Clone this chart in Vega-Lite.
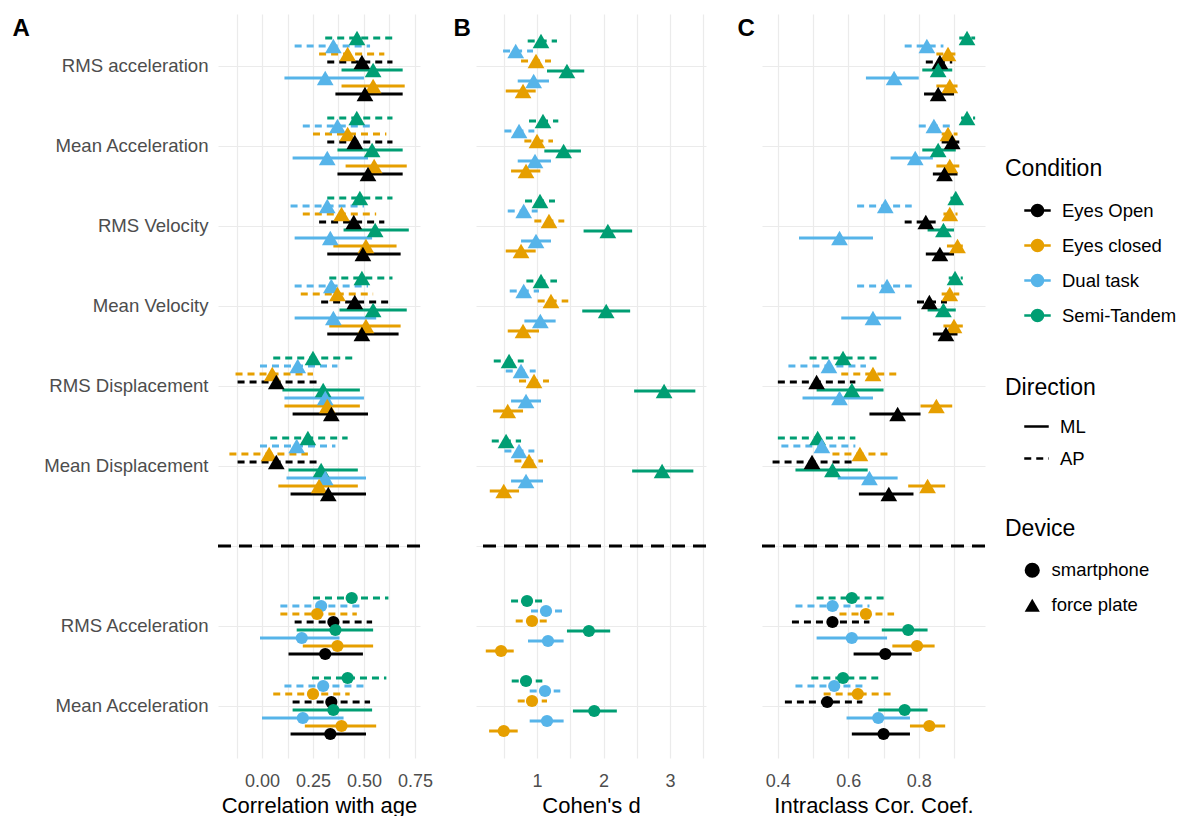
{
  "$schema": "https://vega.github.io/schema/vega-lite/v6.json",
  "padding": {"left": 12, "top": 14, "right": 5, "bottom": 0},
  "bounds": "flush",
  "spacing": 56,
  "config": {
    "font": "Liberation Sans",
    "view": {"stroke": null},
    "axis": {"grid": true, "gridColor": "#EBEBEB", "gridWidth": 1.2, "ticks": false, "domain": false, "labelFont": "Liberation Sans", "labelFontSize": 18, "labelColor": "#4D4D4D", "titleFont": "Liberation Sans", "titleFontSize": 22, "titleFontWeight": "normal", "titleColor": "#000000"},
    "axisX": {"labelPadding": 14, "titlePadding": 5},
    "axisY": {"labelPadding": 10, "labelFontSize": 18.6},
    "legend": {"titleFont": "Liberation Sans", "titleFontSize": 23, "titleFontWeight": "normal", "titleColor": "#000000", "labelFont": "Liberation Sans", "labelFontSize": 18.5, "labelColor": "#000000", "rowPadding": 9, "titlePadding": 15, "labelOffset": 10, "symbolOffset": 18, "offset": 18, "layout": {"right": {"anchor": "middle", "direction": "vertical", "margin": 50}}}
  },
  "datasets": {
    "sep": [{"m": "sep"}],
    "A": [
      {"m": "RMS acceleration", "c": "Semi-Tandem", "d": "AP", "e": 0.466, "lo": 0.31, "hi": 0.64},
      {"m": "RMS acceleration", "c": "Dual task", "d": "AP", "e": 0.35, "lo": 0.16, "hi": 0.53},
      {"m": "RMS acceleration", "c": "Eyes closed", "d": "AP", "e": 0.42, "lo": 0.28, "hi": 0.6},
      {"m": "RMS acceleration", "c": "Eyes Open", "d": "AP", "e": 0.49, "lo": 0.32, "hi": 0.64},
      {"m": "RMS acceleration", "c": "Semi-Tandem", "d": "ML", "e": 0.545, "lo": 0.39, "hi": 0.69},
      {"m": "RMS acceleration", "c": "Dual task", "d": "ML", "e": 0.31, "lo": 0.11, "hi": 0.5},
      {"m": "RMS acceleration", "c": "Eyes closed", "d": "ML", "e": 0.545, "lo": 0.39, "hi": 0.7},
      {"m": "RMS acceleration", "c": "Eyes Open", "d": "ML", "e": 0.505, "lo": 0.36, "hi": 0.69},
      {"m": "Mean Acceleration", "c": "Semi-Tandem", "d": "AP", "e": 0.465, "lo": 0.32, "hi": 0.64},
      {"m": "Mean Acceleration", "c": "Dual task", "d": "AP", "e": 0.37, "lo": 0.2, "hi": 0.55},
      {"m": "Mean Acceleration", "c": "Eyes closed", "d": "AP", "e": 0.42, "lo": 0.25, "hi": 0.61},
      {"m": "Mean Acceleration", "c": "Eyes Open", "d": "AP", "e": 0.455, "lo": 0.32, "hi": 0.64},
      {"m": "Mean Acceleration", "c": "Semi-Tandem", "d": "ML", "e": 0.54, "lo": 0.37, "hi": 0.69},
      {"m": "Mean Acceleration", "c": "Dual task", "d": "ML", "e": 0.32, "lo": 0.15, "hi": 0.52},
      {"m": "Mean Acceleration", "c": "Eyes closed", "d": "ML", "e": 0.55, "lo": 0.41, "hi": 0.71},
      {"m": "Mean Acceleration", "c": "Eyes Open", "d": "ML", "e": 0.52, "lo": 0.37, "hi": 0.69},
      {"m": "RMS Velocity", "c": "Semi-Tandem", "d": "AP", "e": 0.48, "lo": 0.32, "hi": 0.64},
      {"m": "RMS Velocity", "c": "Dual task", "d": "AP", "e": 0.32, "lo": 0.14, "hi": 0.5},
      {"m": "RMS Velocity", "c": "Eyes closed", "d": "AP", "e": 0.39, "lo": 0.2, "hi": 0.56},
      {"m": "RMS Velocity", "c": "Eyes Open", "d": "AP", "e": 0.45, "lo": 0.28, "hi": 0.6},
      {"m": "RMS Velocity", "c": "Semi-Tandem", "d": "ML", "e": 0.555, "lo": 0.4, "hi": 0.72},
      {"m": "RMS Velocity", "c": "Dual task", "d": "ML", "e": 0.335, "lo": 0.16, "hi": 0.54},
      {"m": "RMS Velocity", "c": "Eyes closed", "d": "ML", "e": 0.51, "lo": 0.35, "hi": 0.66},
      {"m": "RMS Velocity", "c": "Eyes Open", "d": "ML", "e": 0.495, "lo": 0.32, "hi": 0.68},
      {"m": "Mean Velocity", "c": "Semi-Tandem", "d": "AP", "e": 0.49, "lo": 0.33, "hi": 0.64},
      {"m": "Mean Velocity", "c": "Dual task", "d": "AP", "e": 0.34, "lo": 0.16, "hi": 0.52},
      {"m": "Mean Velocity", "c": "Eyes closed", "d": "AP", "e": 0.37, "lo": 0.19, "hi": 0.545},
      {"m": "Mean Velocity", "c": "Eyes Open", "d": "AP", "e": 0.455, "lo": 0.29, "hi": 0.62},
      {"m": "Mean Velocity", "c": "Semi-Tandem", "d": "ML", "e": 0.545, "lo": 0.38, "hi": 0.71},
      {"m": "Mean Velocity", "c": "Dual task", "d": "ML", "e": 0.35, "lo": 0.16, "hi": 0.56},
      {"m": "Mean Velocity", "c": "Eyes closed", "d": "ML", "e": 0.51, "lo": 0.33, "hi": 0.68},
      {"m": "Mean Velocity", "c": "Eyes Open", "d": "ML", "e": 0.49, "lo": 0.32, "hi": 0.67},
      {"m": "RMS Displacement", "c": "Semi-Tandem", "d": "AP", "e": 0.25, "lo": 0.055, "hi": 0.45},
      {"m": "RMS Displacement", "c": "Dual task", "d": "AP", "e": 0.175, "lo": -0.01, "hi": 0.37},
      {"m": "RMS Displacement", "c": "Eyes closed", "d": "AP", "e": 0.05, "lo": -0.13, "hi": 0.25},
      {"m": "RMS Displacement", "c": "Eyes Open", "d": "AP", "e": 0.07, "lo": -0.12, "hi": 0.285},
      {"m": "RMS Displacement", "c": "Semi-Tandem", "d": "ML", "e": 0.3, "lo": 0.1, "hi": 0.48},
      {"m": "RMS Displacement", "c": "Dual task", "d": "ML", "e": 0.31, "lo": 0.11, "hi": 0.5},
      {"m": "RMS Displacement", "c": "Eyes closed", "d": "ML", "e": 0.32, "lo": 0.11, "hi": 0.48},
      {"m": "RMS Displacement", "c": "Eyes Open", "d": "ML", "e": 0.34, "lo": 0.15, "hi": 0.52},
      {"m": "Mean Displacement", "c": "Semi-Tandem", "d": "AP", "e": 0.225, "lo": 0.04, "hi": 0.42},
      {"m": "Mean Displacement", "c": "Dual task", "d": "AP", "e": 0.17, "lo": -0.01, "hi": 0.36},
      {"m": "Mean Displacement", "c": "Eyes closed", "d": "AP", "e": 0.035, "lo": -0.16, "hi": 0.225},
      {"m": "Mean Displacement", "c": "Eyes Open", "d": "AP", "e": 0.07, "lo": -0.12, "hi": 0.275},
      {"m": "Mean Displacement", "c": "Semi-Tandem", "d": "ML", "e": 0.29, "lo": 0.13, "hi": 0.47},
      {"m": "Mean Displacement", "c": "Dual task", "d": "ML", "e": 0.31, "lo": 0.12, "hi": 0.51},
      {"m": "Mean Displacement", "c": "Eyes closed", "d": "ML", "e": 0.28, "lo": 0.08, "hi": 0.47},
      {"m": "Mean Displacement", "c": "Eyes Open", "d": "ML", "e": 0.325, "lo": 0.14, "hi": 0.51},
      {"m": "RMS Acceleration (smartphone)", "c": "Semi-Tandem", "d": "AP", "e": 0.44, "lo": 0.25, "hi": 0.62},
      {"m": "RMS Acceleration (smartphone)", "c": "Dual task", "d": "AP", "e": 0.29, "lo": 0.09, "hi": 0.49},
      {"m": "RMS Acceleration (smartphone)", "c": "Eyes closed", "d": "AP", "e": 0.27, "lo": 0.09, "hi": 0.465},
      {"m": "RMS Acceleration (smartphone)", "c": "Eyes Open", "d": "AP", "e": 0.35, "lo": 0.16, "hi": 0.54},
      {"m": "RMS Acceleration (smartphone)", "c": "Semi-Tandem", "d": "ML", "e": 0.36, "lo": 0.17, "hi": 0.545},
      {"m": "RMS Acceleration (smartphone)", "c": "Dual task", "d": "ML", "e": 0.195, "lo": -0.01, "hi": 0.38},
      {"m": "RMS Acceleration (smartphone)", "c": "Eyes closed", "d": "ML", "e": 0.37, "lo": 0.2, "hi": 0.545},
      {"m": "RMS Acceleration (smartphone)", "c": "Eyes Open", "d": "ML", "e": 0.31, "lo": 0.13, "hi": 0.495},
      {"m": "Mean Acceleration (smartphone)", "c": "Semi-Tandem", "d": "AP", "e": 0.42, "lo": 0.245, "hi": 0.61},
      {"m": "Mean Acceleration (smartphone)", "c": "Dual task", "d": "AP", "e": 0.3, "lo": 0.11, "hi": 0.5},
      {"m": "Mean Acceleration (smartphone)", "c": "Eyes closed", "d": "AP", "e": 0.25, "lo": 0.055, "hi": 0.43},
      {"m": "Mean Acceleration (smartphone)", "c": "Eyes Open", "d": "AP", "e": 0.34, "lo": 0.15, "hi": 0.53},
      {"m": "Mean Acceleration (smartphone)", "c": "Semi-Tandem", "d": "ML", "e": 0.35, "lo": 0.15, "hi": 0.54},
      {"m": "Mean Acceleration (smartphone)", "c": "Dual task", "d": "ML", "e": 0.2, "lo": 0.0, "hi": 0.4},
      {"m": "Mean Acceleration (smartphone)", "c": "Eyes closed", "d": "ML", "e": 0.39, "lo": 0.21, "hi": 0.56},
      {"m": "Mean Acceleration (smartphone)", "c": "Eyes Open", "d": "ML", "e": 0.335, "lo": 0.14, "hi": 0.51}
    ],
    "B": [
      {"m": "RMS acceleration", "c": "Semi-Tandem", "d": "AP", "e": 1.06, "lo": 0.86, "hi": 1.3},
      {"m": "RMS acceleration", "c": "Dual task", "d": "AP", "e": 0.68, "lo": 0.49, "hi": 0.94},
      {"m": "RMS acceleration", "c": "Eyes closed", "d": "AP", "e": 0.985, "lo": 0.76, "hi": 1.21},
      {"m": "RMS acceleration", "c": "Semi-Tandem", "d": "ML", "e": 1.45, "lo": 1.15, "hi": 1.71},
      {"m": "RMS acceleration", "c": "Dual task", "d": "ML", "e": 0.95, "lo": 0.71, "hi": 1.18},
      {"m": "RMS acceleration", "c": "Eyes closed", "d": "ML", "e": 0.79, "lo": 0.53, "hi": 0.98},
      {"m": "Mean Acceleration", "c": "Semi-Tandem", "d": "AP", "e": 1.09, "lo": 0.88, "hi": 1.32},
      {"m": "Mean Acceleration", "c": "Dual task", "d": "AP", "e": 0.73, "lo": 0.51, "hi": 0.96},
      {"m": "Mean Acceleration", "c": "Eyes closed", "d": "AP", "e": 1.0, "lo": 0.81, "hi": 1.24},
      {"m": "Mean Acceleration", "c": "Semi-Tandem", "d": "ML", "e": 1.4, "lo": 1.11, "hi": 1.66},
      {"m": "Mean Acceleration", "c": "Dual task", "d": "ML", "e": 0.97, "lo": 0.71, "hi": 1.21},
      {"m": "Mean Acceleration", "c": "Eyes closed", "d": "ML", "e": 0.835, "lo": 0.61, "hi": 1.05},
      {"m": "RMS Velocity", "c": "Semi-Tandem", "d": "AP", "e": 1.045, "lo": 0.82, "hi": 1.27},
      {"m": "RMS Velocity", "c": "Dual task", "d": "AP", "e": 0.8, "lo": 0.56, "hi": 1.01},
      {"m": "RMS Velocity", "c": "Eyes closed", "d": "AP", "e": 1.18, "lo": 0.96, "hi": 1.41},
      {"m": "RMS Velocity", "c": "Semi-Tandem", "d": "ML", "e": 2.065, "lo": 1.7, "hi": 2.43},
      {"m": "RMS Velocity", "c": "Dual task", "d": "ML", "e": 0.985, "lo": 0.76, "hi": 1.21},
      {"m": "RMS Velocity", "c": "Eyes closed", "d": "ML", "e": 0.76, "lo": 0.53, "hi": 0.98},
      {"m": "Mean Velocity", "c": "Semi-Tandem", "d": "AP", "e": 1.06, "lo": 0.84, "hi": 1.3},
      {"m": "Mean Velocity", "c": "Dual task", "d": "AP", "e": 0.8, "lo": 0.59, "hi": 1.03},
      {"m": "Mean Velocity", "c": "Eyes closed", "d": "AP", "e": 1.21, "lo": 1.01, "hi": 1.47},
      {"m": "Mean Velocity", "c": "Semi-Tandem", "d": "ML", "e": 2.04, "lo": 1.68, "hi": 2.4},
      {"m": "Mean Velocity", "c": "Dual task", "d": "ML", "e": 1.05, "lo": 0.81, "hi": 1.28},
      {"m": "Mean Velocity", "c": "Eyes closed", "d": "ML", "e": 0.79, "lo": 0.56, "hi": 1.03},
      {"m": "RMS Displacement", "c": "Semi-Tandem", "d": "AP", "e": 0.58, "lo": 0.35, "hi": 0.8},
      {"m": "RMS Displacement", "c": "Dual task", "d": "AP", "e": 0.76, "lo": 0.53, "hi": 0.98},
      {"m": "RMS Displacement", "c": "Eyes closed", "d": "AP", "e": 0.955, "lo": 0.73, "hi": 1.18},
      {"m": "RMS Displacement", "c": "Semi-Tandem", "d": "ML", "e": 2.91, "lo": 2.46, "hi": 3.38},
      {"m": "RMS Displacement", "c": "Dual task", "d": "ML", "e": 0.835, "lo": 0.61, "hi": 1.06},
      {"m": "RMS Displacement", "c": "Eyes closed", "d": "ML", "e": 0.56, "lo": 0.34, "hi": 0.79},
      {"m": "Mean Displacement", "c": "Semi-Tandem", "d": "AP", "e": 0.535, "lo": 0.32, "hi": 0.76},
      {"m": "Mean Displacement", "c": "Dual task", "d": "AP", "e": 0.73, "lo": 0.51, "hi": 0.96},
      {"m": "Mean Displacement", "c": "Eyes closed", "d": "AP", "e": 0.88, "lo": 0.66, "hi": 1.09},
      {"m": "Mean Displacement", "c": "Semi-Tandem", "d": "ML", "e": 2.88, "lo": 2.43, "hi": 3.35},
      {"m": "Mean Displacement", "c": "Dual task", "d": "ML", "e": 0.835, "lo": 0.61, "hi": 1.09},
      {"m": "Mean Displacement", "c": "Eyes closed", "d": "ML", "e": 0.5, "lo": 0.29, "hi": 0.73},
      {"m": "RMS Acceleration (smartphone)", "c": "Semi-Tandem", "d": "AP", "e": 0.85, "lo": 0.61, "hi": 1.09},
      {"m": "RMS Acceleration (smartphone)", "c": "Dual task", "d": "AP", "e": 1.135, "lo": 0.91, "hi": 1.38},
      {"m": "RMS Acceleration (smartphone)", "c": "Eyes closed", "d": "AP", "e": 0.925, "lo": 0.68, "hi": 1.165},
      {"m": "RMS Acceleration (smartphone)", "c": "Semi-Tandem", "d": "ML", "e": 1.78, "lo": 1.45, "hi": 2.1},
      {"m": "RMS Acceleration (smartphone)", "c": "Dual task", "d": "ML", "e": 1.165, "lo": 0.865, "hi": 1.4},
      {"m": "RMS Acceleration (smartphone)", "c": "Eyes closed", "d": "ML", "e": 0.46, "lo": 0.23, "hi": 0.65},
      {"m": "Mean Acceleration (smartphone)", "c": "Semi-Tandem", "d": "AP", "e": 0.835, "lo": 0.62, "hi": 1.08},
      {"m": "Mean Acceleration (smartphone)", "c": "Dual task", "d": "AP", "e": 1.12, "lo": 0.89, "hi": 1.35},
      {"m": "Mean Acceleration (smartphone)", "c": "Eyes closed", "d": "AP", "e": 0.925, "lo": 0.71, "hi": 1.15},
      {"m": "Mean Acceleration (smartphone)", "c": "Semi-Tandem", "d": "ML", "e": 1.86, "lo": 1.54, "hi": 2.2},
      {"m": "Mean Acceleration (smartphone)", "c": "Dual task", "d": "ML", "e": 1.15, "lo": 0.89, "hi": 1.4},
      {"m": "Mean Acceleration (smartphone)", "c": "Eyes closed", "d": "ML", "e": 0.5, "lo": 0.28, "hi": 0.71}
    ],
    "C": [
      {"m": "RMS acceleration", "c": "Semi-Tandem", "d": "AP", "e": 0.937, "lo": 0.915, "hi": 0.96},
      {"m": "RMS acceleration", "c": "Dual task", "d": "AP", "e": 0.823, "lo": 0.76, "hi": 0.87},
      {"m": "RMS acceleration", "c": "Eyes closed", "d": "AP", "e": 0.883, "lo": 0.85, "hi": 0.91},
      {"m": "RMS acceleration", "c": "Eyes Open", "d": "AP", "e": 0.86, "lo": 0.82, "hi": 0.895},
      {"m": "RMS acceleration", "c": "Semi-Tandem", "d": "ML", "e": 0.855, "lo": 0.81, "hi": 0.895},
      {"m": "RMS acceleration", "c": "Dual task", "d": "ML", "e": 0.73, "lo": 0.65, "hi": 0.8},
      {"m": "RMS acceleration", "c": "Eyes closed", "d": "ML", "e": 0.888, "lo": 0.85, "hi": 0.91},
      {"m": "RMS acceleration", "c": "Eyes Open", "d": "ML", "e": 0.855, "lo": 0.815, "hi": 0.9},
      {"m": "Mean Acceleration", "c": "Semi-Tandem", "d": "AP", "e": 0.937, "lo": 0.92, "hi": 0.96},
      {"m": "Mean Acceleration", "c": "Dual task", "d": "AP", "e": 0.843, "lo": 0.8, "hi": 0.895},
      {"m": "Mean Acceleration", "c": "Eyes closed", "d": "AP", "e": 0.883, "lo": 0.865, "hi": 0.91},
      {"m": "Mean Acceleration", "c": "Eyes Open", "d": "AP", "e": 0.895, "lo": 0.865, "hi": 0.915},
      {"m": "Mean Acceleration", "c": "Semi-Tandem", "d": "ML", "e": 0.855, "lo": 0.81, "hi": 0.905},
      {"m": "Mean Acceleration", "c": "Dual task", "d": "ML", "e": 0.79, "lo": 0.72, "hi": 0.84},
      {"m": "Mean Acceleration", "c": "Eyes closed", "d": "ML", "e": 0.888, "lo": 0.85, "hi": 0.915},
      {"m": "Mean Acceleration", "c": "Eyes Open", "d": "ML", "e": 0.873, "lo": 0.84, "hi": 0.91},
      {"m": "RMS Velocity", "c": "Semi-Tandem", "d": "AP", "e": 0.905, "lo": 0.89, "hi": 0.92},
      {"m": "RMS Velocity", "c": "Dual task", "d": "AP", "e": 0.705, "lo": 0.625, "hi": 0.78},
      {"m": "RMS Velocity", "c": "Eyes closed", "d": "AP", "e": 0.888, "lo": 0.87, "hi": 0.91},
      {"m": "RMS Velocity", "c": "Eyes Open", "d": "AP", "e": 0.82, "lo": 0.76, "hi": 0.86},
      {"m": "RMS Velocity", "c": "Semi-Tandem", "d": "ML", "e": 0.87, "lo": 0.825, "hi": 0.9},
      {"m": "RMS Velocity", "c": "Dual task", "d": "ML", "e": 0.575, "lo": 0.46, "hi": 0.67},
      {"m": "RMS Velocity", "c": "Eyes closed", "d": "ML", "e": 0.91, "lo": 0.88, "hi": 0.925},
      {"m": "RMS Velocity", "c": "Eyes Open", "d": "ML", "e": 0.86, "lo": 0.82, "hi": 0.9},
      {"m": "Mean Velocity", "c": "Semi-Tandem", "d": "AP", "e": 0.903, "lo": 0.885, "hi": 0.925},
      {"m": "Mean Velocity", "c": "Dual task", "d": "AP", "e": 0.71, "lo": 0.625, "hi": 0.78},
      {"m": "Mean Velocity", "c": "Eyes closed", "d": "AP", "e": 0.888, "lo": 0.865, "hi": 0.915},
      {"m": "Mean Velocity", "c": "Eyes Open", "d": "AP", "e": 0.83, "lo": 0.795, "hi": 0.88},
      {"m": "Mean Velocity", "c": "Semi-Tandem", "d": "ML", "e": 0.87, "lo": 0.825, "hi": 0.905},
      {"m": "Mean Velocity", "c": "Dual task", "d": "ML", "e": 0.67, "lo": 0.58, "hi": 0.75},
      {"m": "Mean Velocity", "c": "Eyes closed", "d": "ML", "e": 0.9, "lo": 0.87, "hi": 0.925},
      {"m": "Mean Velocity", "c": "Eyes Open", "d": "ML", "e": 0.877, "lo": 0.84, "hi": 0.91},
      {"m": "RMS Displacement", "c": "Semi-Tandem", "d": "AP", "e": 0.585, "lo": 0.49, "hi": 0.68},
      {"m": "RMS Displacement", "c": "Dual task", "d": "AP", "e": 0.545, "lo": 0.43, "hi": 0.65},
      {"m": "RMS Displacement", "c": "Eyes closed", "d": "AP", "e": 0.67, "lo": 0.58, "hi": 0.75},
      {"m": "RMS Displacement", "c": "Eyes Open", "d": "AP", "e": 0.51, "lo": 0.4, "hi": 0.62},
      {"m": "RMS Displacement", "c": "Semi-Tandem", "d": "ML", "e": 0.61, "lo": 0.51, "hi": 0.7},
      {"m": "RMS Displacement", "c": "Dual task", "d": "ML", "e": 0.575, "lo": 0.47, "hi": 0.67},
      {"m": "RMS Displacement", "c": "Eyes closed", "d": "ML", "e": 0.85, "lo": 0.805, "hi": 0.895},
      {"m": "RMS Displacement", "c": "Eyes Open", "d": "ML", "e": 0.74, "lo": 0.66, "hi": 0.805},
      {"m": "Mean Displacement", "c": "Semi-Tandem", "d": "AP", "e": 0.513, "lo": 0.4, "hi": 0.62},
      {"m": "Mean Displacement", "c": "Dual task", "d": "AP", "e": 0.525, "lo": 0.41, "hi": 0.62},
      {"m": "Mean Displacement", "c": "Eyes closed", "d": "AP", "e": 0.633, "lo": 0.555, "hi": 0.72},
      {"m": "Mean Displacement", "c": "Eyes Open", "d": "AP", "e": 0.497, "lo": 0.385, "hi": 0.61},
      {"m": "Mean Displacement", "c": "Semi-Tandem", "d": "ML", "e": 0.555, "lo": 0.45, "hi": 0.655},
      {"m": "Mean Displacement", "c": "Dual task", "d": "ML", "e": 0.66, "lo": 0.57, "hi": 0.74},
      {"m": "Mean Displacement", "c": "Eyes closed", "d": "ML", "e": 0.825, "lo": 0.77, "hi": 0.875},
      {"m": "Mean Displacement", "c": "Eyes Open", "d": "ML", "e": 0.715, "lo": 0.63, "hi": 0.785},
      {"m": "RMS Acceleration (smartphone)", "c": "Semi-Tandem", "d": "AP", "e": 0.61, "lo": 0.51, "hi": 0.705},
      {"m": "RMS Acceleration (smartphone)", "c": "Dual task", "d": "AP", "e": 0.555, "lo": 0.45, "hi": 0.66},
      {"m": "RMS Acceleration (smartphone)", "c": "Eyes closed", "d": "AP", "e": 0.65, "lo": 0.575, "hi": 0.73},
      {"m": "RMS Acceleration (smartphone)", "c": "Eyes Open", "d": "AP", "e": 0.555, "lo": 0.44, "hi": 0.66},
      {"m": "RMS Acceleration (smartphone)", "c": "Semi-Tandem", "d": "ML", "e": 0.77, "lo": 0.695, "hi": 0.825},
      {"m": "RMS Acceleration (smartphone)", "c": "Dual task", "d": "ML", "e": 0.61, "lo": 0.51, "hi": 0.71},
      {"m": "RMS Acceleration (smartphone)", "c": "Eyes closed", "d": "ML", "e": 0.795, "lo": 0.725, "hi": 0.845},
      {"m": "RMS Acceleration (smartphone)", "c": "Eyes Open", "d": "ML", "e": 0.705, "lo": 0.615, "hi": 0.78},
      {"m": "Mean Acceleration (smartphone)", "c": "Semi-Tandem", "d": "AP", "e": 0.585, "lo": 0.495, "hi": 0.685},
      {"m": "Mean Acceleration (smartphone)", "c": "Dual task", "d": "AP", "e": 0.56, "lo": 0.45, "hi": 0.64},
      {"m": "Mean Acceleration (smartphone)", "c": "Eyes closed", "d": "AP", "e": 0.627, "lo": 0.53, "hi": 0.72},
      {"m": "Mean Acceleration (smartphone)", "c": "Eyes Open", "d": "AP", "e": 0.54, "lo": 0.42, "hi": 0.64},
      {"m": "Mean Acceleration (smartphone)", "c": "Semi-Tandem", "d": "ML", "e": 0.76, "lo": 0.685, "hi": 0.825},
      {"m": "Mean Acceleration (smartphone)", "c": "Dual task", "d": "ML", "e": 0.685, "lo": 0.595, "hi": 0.775},
      {"m": "Mean Acceleration (smartphone)", "c": "Eyes closed", "d": "ML", "e": 0.83, "lo": 0.775, "hi": 0.875},
      {"m": "Mean Acceleration (smartphone)", "c": "Eyes Open", "d": "ML", "e": 0.7, "lo": 0.61, "hi": 0.775}
    ]
  },
  "resolve": {"scale": {"yOffset": "independent"}},
  "hconcat": [
    {
      "width": 202, "height": 744,
      "data": {"name": "A"},
      "layer": [
        {
          "transform": [{"calculate": "datum.d + ' ' + datum.c", "as": "g"}],
          "mark": {"type": "rule", "strokeWidth": 2.8},
          "encoding": {
            "y": {"field": "m", "type": "nominal", "sort": null, "scale": {"domain": ["RMS acceleration", "Mean Acceleration", "RMS Velocity", "Mean Velocity", "RMS Displacement", "Mean Displacement", "sep", "RMS Acceleration (smartphone)", "Mean Acceleration (smartphone)"], "paddingInner": 0, "paddingOuter": 0.15}, "axis": {"labelExpr": "datum.value == 'sep' ? '' : replace(datum.value, ' (smartphone)', '')", "title": "A", "titleAngle": 0, "titleAlign": "left", "titleBaseline": "middle", "titleX": -206, "titleY": 14, "titleFontSize": 24, "titleFontWeight": "bold", "titleColor": "#000000"}},
            "yOffset": {"field": "g", "type": "nominal", "scale": {"domain": ["AP Semi-Tandem", "AP Dual task", "AP Eyes closed", "AP Eyes Open", "ML Semi-Tandem", "ML Dual task", "ML Eyes closed", "ML Eyes Open"], "paddingInner": 0, "paddingOuter": 3}},
            "x": {"field": "lo", "type": "quantitative", "scale": {"domain": [-0.216, 0.775], "nice": false, "zero": false}, "axis": {"values": [-0.125, 0, 0.125, 0.25, 0.375, 0.5, 0.625, 0.75], "labelExpr": "abs(datum.value*4 - round(datum.value*4)) < 0.001 ? format(datum.value, '.2f') : ''", "title": "Correlation with age"}},
            "x2": {"field": "hi"},
            "color": {"field": "c", "type": "nominal", "scale": {"domain": ["Eyes Open", "Eyes closed", "Dual task", "Semi-Tandem"], "range": ["#000000", "#E69F00", "#56B4E9", "#009E73"]}, "legend": {"title": "Condition", "symbolType": "M-1,0H1M-0.42,0A0.42,0.42,0,1,1,0.42,0A0.42,0.42,0,1,1,-0.42,0Z", "symbolSize": 700, "symbolStrokeWidth": 2.5, "encode": {"symbols": {"update": {"stroke": {"scale": "color", "field": "value"}, "fill": {"scale": "color", "field": "value"}}}}}},
            "strokeDash": {"field": "d", "type": "nominal", "scale": {"domain": ["ML", "AP"], "range": [[1, 0], [7, 5]]}, "legend": {"title": "Direction", "symbolType": "stroke", "symbolStrokeColor": "#000000", "symbolStrokeWidth": 2.5, "symbolSize": 600, "titlePadding": 13}}
          }
        },
        {
          "transform": [{"calculate": "datum.d + ' ' + datum.c", "as": "g"}, {"calculate": "indexof(datum.m, 'smartphone') >= 0 ? 'smartphone' : 'force plate'", "as": "dev"}],
          "mark": {"type": "point", "filled": true, "opacity": 1, "strokeWidth": 0},
          "encoding": {
            "y": {"field": "m", "type": "nominal", "sort": null, "scale": {"domain": ["RMS acceleration", "Mean Acceleration", "RMS Velocity", "Mean Velocity", "RMS Displacement", "Mean Displacement", "sep", "RMS Acceleration (smartphone)", "Mean Acceleration (smartphone)"], "paddingInner": 0, "paddingOuter": 0.15}, "axis": {"labelExpr": "datum.value == 'sep' ? '' : replace(datum.value, ' (smartphone)', '')", "title": "A", "titleAngle": 0, "titleAlign": "left", "titleBaseline": "middle", "titleX": -206, "titleY": 14, "titleFontSize": 24, "titleFontWeight": "bold", "titleColor": "#000000"}},
            "yOffset": {"field": "g", "type": "nominal", "scale": {"domain": ["AP Semi-Tandem", "AP Dual task", "AP Eyes closed", "AP Eyes Open", "ML Semi-Tandem", "ML Dual task", "ML Eyes closed", "ML Eyes Open"], "paddingInner": 0, "paddingOuter": 3}},
            "x": {"field": "e", "type": "quantitative", "scale": {"domain": [-0.216, 0.775], "nice": false, "zero": false}, "axis": {"values": [-0.125, 0, 0.125, 0.25, 0.375, 0.5, 0.625, 0.75], "labelExpr": "abs(datum.value*4 - round(datum.value*4)) < 0.001 ? format(datum.value, '.2f') : ''", "title": "Correlation with age"}},
            "color": {"field": "c", "type": "nominal", "scale": {"domain": ["Eyes Open", "Eyes closed", "Dual task", "Semi-Tandem"], "range": ["#000000", "#E69F00", "#56B4E9", "#009E73"]}, "legend": {"title": "Condition", "symbolType": "M-1,0H1M-0.42,0A0.42,0.42,0,1,1,0.42,0A0.42,0.42,0,1,1,-0.42,0Z", "symbolSize": 700, "symbolStrokeWidth": 2.5, "encode": {"symbols": {"update": {"stroke": {"scale": "color", "field": "value"}, "fill": {"scale": "color", "field": "value"}}}}}},
            "shape": {"field": "dev", "type": "nominal", "scale": {"domain": ["smartphone", "force plate"], "range": ["circle", "triangle-up"]}, "legend": {"title": "Device", "symbolFillColor": "#000000", "symbolStrokeColor": "#000000", "symbolStrokeWidth": 0, "symbolSize": 230, "rowPadding": 16, "titlePadding": 20}},
            "size": {"field": "dev", "type": "nominal", "scale": {"domain": ["force plate", "smartphone"], "range": [280, 150]}, "legend": null}
          }
        },
        {
          "data": {"name": "sep"},
          "mark": {"type": "rule", "color": "#000000", "strokeDash": [13, 8], "strokeWidth": 2.8},
          "encoding": {
            "y": {"field": "m", "type": "nominal", "sort": null, "scale": {"domain": ["RMS acceleration", "Mean Acceleration", "RMS Velocity", "Mean Velocity", "RMS Displacement", "Mean Displacement", "sep", "RMS Acceleration (smartphone)", "Mean Acceleration (smartphone)"], "paddingInner": 0, "paddingOuter": 0.15}, "axis": {"labelExpr": "datum.value == 'sep' ? '' : replace(datum.value, ' (smartphone)', '')", "title": "A", "titleAngle": 0, "titleAlign": "left", "titleBaseline": "middle", "titleX": -206, "titleY": 14, "titleFontSize": 24, "titleFontWeight": "bold", "titleColor": "#000000"}}
          }
        }
      ]
    },
    {
      "width": 230, "height": 744,
      "data": {"name": "B"},
      "layer": [
        {
          "transform": [{"calculate": "datum.d + ' ' + datum.c", "as": "g"}],
          "mark": {"type": "rule", "strokeWidth": 2.8},
          "encoding": {
            "y": {"field": "m", "type": "nominal", "sort": null, "scale": {"domain": ["RMS acceleration", "Mean Acceleration", "RMS Velocity", "Mean Velocity", "RMS Displacement", "Mean Displacement", "sep", "RMS Acceleration (smartphone)", "Mean Acceleration (smartphone)"], "paddingInner": 0, "paddingOuter": 0.15}, "axis": {"labels": false, "title": "B", "titleAngle": 0, "titleAlign": "left", "titleBaseline": "middle", "titleX": -23, "titleY": 14, "titleFontSize": 24, "titleFontWeight": "bold", "titleColor": "#000000"}},
            "yOffset": {"field": "g", "type": "nominal", "scale": {"domain": ["AP Semi-Tandem", "AP Dual task", "AP Eyes closed", "ML Semi-Tandem", "ML Dual task", "ML Eyes closed"], "paddingInner": 0, "paddingOuter": 2}},
            "x": {"field": "lo", "type": "quantitative", "scale": {"domain": [0.083, 3.54], "nice": false, "zero": false}, "axis": {"values": [0.5, 1, 1.5, 2, 2.5, 3, 3.5], "labelExpr": "datum.value % 1 == 0 ? format(datum.value, 'd') : ''", "title": "Cohen's d"}},
            "x2": {"field": "hi"},
            "color": {"field": "c", "type": "nominal", "scale": {"domain": ["Eyes Open", "Eyes closed", "Dual task", "Semi-Tandem"], "range": ["#000000", "#E69F00", "#56B4E9", "#009E73"]}, "legend": {"title": "Condition", "symbolType": "M-1,0H1M-0.42,0A0.42,0.42,0,1,1,0.42,0A0.42,0.42,0,1,1,-0.42,0Z", "symbolSize": 700, "symbolStrokeWidth": 2.5, "encode": {"symbols": {"update": {"stroke": {"scale": "color", "field": "value"}, "fill": {"scale": "color", "field": "value"}}}}}},
            "strokeDash": {"field": "d", "type": "nominal", "scale": {"domain": ["ML", "AP"], "range": [[1, 0], [7, 5]]}, "legend": {"title": "Direction", "symbolType": "stroke", "symbolStrokeColor": "#000000", "symbolStrokeWidth": 2.5, "symbolSize": 600, "titlePadding": 13}}
          }
        },
        {
          "transform": [{"calculate": "datum.d + ' ' + datum.c", "as": "g"}, {"calculate": "indexof(datum.m, 'smartphone') >= 0 ? 'smartphone' : 'force plate'", "as": "dev"}],
          "mark": {"type": "point", "filled": true, "opacity": 1, "strokeWidth": 0},
          "encoding": {
            "y": {"field": "m", "type": "nominal", "sort": null, "scale": {"domain": ["RMS acceleration", "Mean Acceleration", "RMS Velocity", "Mean Velocity", "RMS Displacement", "Mean Displacement", "sep", "RMS Acceleration (smartphone)", "Mean Acceleration (smartphone)"], "paddingInner": 0, "paddingOuter": 0.15}, "axis": {"labels": false, "title": "B", "titleAngle": 0, "titleAlign": "left", "titleBaseline": "middle", "titleX": -23, "titleY": 14, "titleFontSize": 24, "titleFontWeight": "bold", "titleColor": "#000000"}},
            "yOffset": {"field": "g", "type": "nominal", "scale": {"domain": ["AP Semi-Tandem", "AP Dual task", "AP Eyes closed", "ML Semi-Tandem", "ML Dual task", "ML Eyes closed"], "paddingInner": 0, "paddingOuter": 2}},
            "x": {"field": "e", "type": "quantitative", "scale": {"domain": [0.083, 3.54], "nice": false, "zero": false}, "axis": {"values": [0.5, 1, 1.5, 2, 2.5, 3, 3.5], "labelExpr": "datum.value % 1 == 0 ? format(datum.value, 'd') : ''", "title": "Cohen's d"}},
            "color": {"field": "c", "type": "nominal", "scale": {"domain": ["Eyes Open", "Eyes closed", "Dual task", "Semi-Tandem"], "range": ["#000000", "#E69F00", "#56B4E9", "#009E73"]}, "legend": {"title": "Condition", "symbolType": "M-1,0H1M-0.42,0A0.42,0.42,0,1,1,0.42,0A0.42,0.42,0,1,1,-0.42,0Z", "symbolSize": 700, "symbolStrokeWidth": 2.5, "encode": {"symbols": {"update": {"stroke": {"scale": "color", "field": "value"}, "fill": {"scale": "color", "field": "value"}}}}}},
            "shape": {"field": "dev", "type": "nominal", "scale": {"domain": ["smartphone", "force plate"], "range": ["circle", "triangle-up"]}, "legend": {"title": "Device", "symbolFillColor": "#000000", "symbolStrokeColor": "#000000", "symbolStrokeWidth": 0, "symbolSize": 230, "rowPadding": 16, "titlePadding": 20}},
            "size": {"field": "dev", "type": "nominal", "scale": {"domain": ["force plate", "smartphone"], "range": [280, 150]}, "legend": null}
          }
        },
        {
          "data": {"name": "sep"},
          "mark": {"type": "rule", "color": "#000000", "strokeDash": [13, 8], "strokeWidth": 2.8},
          "encoding": {
            "y": {"field": "m", "type": "nominal", "sort": null, "scale": {"domain": ["RMS acceleration", "Mean Acceleration", "RMS Velocity", "Mean Velocity", "RMS Displacement", "Mean Displacement", "sep", "RMS Acceleration (smartphone)", "Mean Acceleration (smartphone)"], "paddingInner": 0, "paddingOuter": 0.15}, "axis": {"labels": false, "title": "B", "titleAngle": 0, "titleAlign": "left", "titleBaseline": "middle", "titleX": -23, "titleY": 14, "titleFontSize": 24, "titleFontWeight": "bold", "titleColor": "#000000"}}
          }
        }
      ]
    },
    {
      "width": 223, "height": 744,
      "data": {"name": "C"},
      "layer": [
        {
          "transform": [{"calculate": "datum.d + ' ' + datum.c", "as": "g"}],
          "mark": {"type": "rule", "strokeWidth": 2.8},
          "encoding": {
            "y": {"field": "m", "type": "nominal", "sort": null, "scale": {"domain": ["RMS acceleration", "Mean Acceleration", "RMS Velocity", "Mean Velocity", "RMS Displacement", "Mean Displacement", "sep", "RMS Acceleration (smartphone)", "Mean Acceleration (smartphone)"], "paddingInner": 0, "paddingOuter": 0.15}, "axis": {"labels": false, "title": "C", "titleAngle": 0, "titleAlign": "left", "titleBaseline": "middle", "titleX": -25, "titleY": 14, "titleFontSize": 24, "titleFontWeight": "bold", "titleColor": "#000000"}},
            "yOffset": {"field": "g", "type": "nominal", "scale": {"domain": ["AP Semi-Tandem", "AP Dual task", "AP Eyes closed", "AP Eyes Open", "ML Semi-Tandem", "ML Dual task", "ML Eyes closed", "ML Eyes Open"], "paddingInner": 0, "paddingOuter": 3}},
            "x": {"field": "lo", "type": "quantitative", "scale": {"domain": [0.355, 0.988], "nice": false, "zero": false}, "axis": {"values": [0.4, 0.5, 0.6, 0.7, 0.8, 0.9], "labelExpr": "abs(datum.value*5 - round(datum.value*5)) < 0.001 ? format(datum.value, '.1f') : ''", "title": "Intraclass Cor. Coef."}},
            "x2": {"field": "hi"},
            "color": {"field": "c", "type": "nominal", "scale": {"domain": ["Eyes Open", "Eyes closed", "Dual task", "Semi-Tandem"], "range": ["#000000", "#E69F00", "#56B4E9", "#009E73"]}, "legend": {"title": "Condition", "symbolType": "M-1,0H1M-0.42,0A0.42,0.42,0,1,1,0.42,0A0.42,0.42,0,1,1,-0.42,0Z", "symbolSize": 700, "symbolStrokeWidth": 2.5, "encode": {"symbols": {"update": {"stroke": {"scale": "color", "field": "value"}, "fill": {"scale": "color", "field": "value"}}}}}},
            "strokeDash": {"field": "d", "type": "nominal", "scale": {"domain": ["ML", "AP"], "range": [[1, 0], [7, 5]]}, "legend": {"title": "Direction", "symbolType": "stroke", "symbolStrokeColor": "#000000", "symbolStrokeWidth": 2.5, "symbolSize": 600, "titlePadding": 13}}
          }
        },
        {
          "transform": [{"calculate": "datum.d + ' ' + datum.c", "as": "g"}, {"calculate": "indexof(datum.m, 'smartphone') >= 0 ? 'smartphone' : 'force plate'", "as": "dev"}],
          "mark": {"type": "point", "filled": true, "opacity": 1, "strokeWidth": 0},
          "encoding": {
            "y": {"field": "m", "type": "nominal", "sort": null, "scale": {"domain": ["RMS acceleration", "Mean Acceleration", "RMS Velocity", "Mean Velocity", "RMS Displacement", "Mean Displacement", "sep", "RMS Acceleration (smartphone)", "Mean Acceleration (smartphone)"], "paddingInner": 0, "paddingOuter": 0.15}, "axis": {"labels": false, "title": "C", "titleAngle": 0, "titleAlign": "left", "titleBaseline": "middle", "titleX": -25, "titleY": 14, "titleFontSize": 24, "titleFontWeight": "bold", "titleColor": "#000000"}},
            "yOffset": {"field": "g", "type": "nominal", "scale": {"domain": ["AP Semi-Tandem", "AP Dual task", "AP Eyes closed", "AP Eyes Open", "ML Semi-Tandem", "ML Dual task", "ML Eyes closed", "ML Eyes Open"], "paddingInner": 0, "paddingOuter": 3}},
            "x": {"field": "e", "type": "quantitative", "scale": {"domain": [0.355, 0.988], "nice": false, "zero": false}, "axis": {"values": [0.4, 0.5, 0.6, 0.7, 0.8, 0.9], "labelExpr": "abs(datum.value*5 - round(datum.value*5)) < 0.001 ? format(datum.value, '.1f') : ''", "title": "Intraclass Cor. Coef."}},
            "color": {"field": "c", "type": "nominal", "scale": {"domain": ["Eyes Open", "Eyes closed", "Dual task", "Semi-Tandem"], "range": ["#000000", "#E69F00", "#56B4E9", "#009E73"]}, "legend": {"title": "Condition", "symbolType": "M-1,0H1M-0.42,0A0.42,0.42,0,1,1,0.42,0A0.42,0.42,0,1,1,-0.42,0Z", "symbolSize": 700, "symbolStrokeWidth": 2.5, "encode": {"symbols": {"update": {"stroke": {"scale": "color", "field": "value"}, "fill": {"scale": "color", "field": "value"}}}}}},
            "shape": {"field": "dev", "type": "nominal", "scale": {"domain": ["smartphone", "force plate"], "range": ["circle", "triangle-up"]}, "legend": {"title": "Device", "symbolFillColor": "#000000", "symbolStrokeColor": "#000000", "symbolStrokeWidth": 0, "symbolSize": 230, "rowPadding": 16, "titlePadding": 20}},
            "size": {"field": "dev", "type": "nominal", "scale": {"domain": ["force plate", "smartphone"], "range": [280, 150]}, "legend": null}
          }
        },
        {
          "data": {"name": "sep"},
          "mark": {"type": "rule", "color": "#000000", "strokeDash": [13, 8], "strokeWidth": 2.8},
          "encoding": {
            "y": {"field": "m", "type": "nominal", "sort": null, "scale": {"domain": ["RMS acceleration", "Mean Acceleration", "RMS Velocity", "Mean Velocity", "RMS Displacement", "Mean Displacement", "sep", "RMS Acceleration (smartphone)", "Mean Acceleration (smartphone)"], "paddingInner": 0, "paddingOuter": 0.15}, "axis": {"labels": false, "title": "C", "titleAngle": 0, "titleAlign": "left", "titleBaseline": "middle", "titleX": -25, "titleY": 14, "titleFontSize": 24, "titleFontWeight": "bold", "titleColor": "#000000"}}
          }
        }
      ]
    }
  ]
}
